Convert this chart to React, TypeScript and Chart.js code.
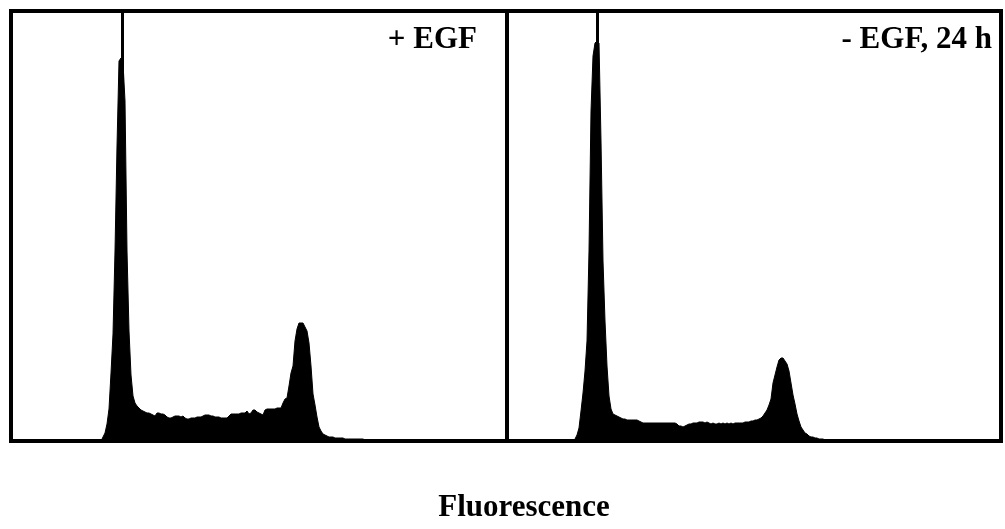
import React, { useEffect, useRef } from "react";
import { Chart, registerables } from "chart.js";

Chart.register(...registerables);

// ---- data ----
const egfStartChannel = 44;
const egfCounts = [
  0, 0, 4, 8, 17, 32, 68, 107, 190, 295, 380, 383, 378, 340, 190, 110, 66, 45, 38, 35,
  33, 31, 30, 29, 28, 28, 27, 26, 25, 28, 28, 27, 27, 26, 24, 23, 23, 24, 25, 25,
  25, 24, 25, 23, 22, 22, 23, 23, 23, 24, 24, 24, 25, 26, 26, 26, 25, 25, 24, 24,
  24, 23, 23, 23, 23, 25, 27, 27, 27, 27, 27, 28, 28, 28, 30, 27, 28, 31, 31, 29,
  28, 27, 26, 31, 32, 32, 32, 32, 32, 33, 33, 33, 38, 42, 43, 55, 68, 75, 100, 112,
  118, 118, 118, 114, 110, 98, 75, 47, 36, 24, 14, 10, 7, 6, 5, 4, 4, 4, 3, 3,
  3, 3, 3, 2, 2, 2, 2, 2, 2, 2, 2, 2, 2, 1, 1, 1, 1, 1, 1, 1, 1, 1, 0,
];
const egfGateChannel = 55.75;

const noEgfStartChannel = 33;
const noEgfCounts = [
  0, 2, 6, 13, 30, 48, 70, 100, 190, 330, 385, 398, 400, 398, 300, 180, 120, 75, 45, 32,
  27, 26, 25, 24, 23, 22, 22, 21, 21, 21, 21, 21, 21, 20, 19, 18, 18, 18, 18, 18,
  18, 18, 18, 18, 18, 18, 18, 18, 18, 18, 18, 18, 17, 15, 15, 14, 15, 16, 17, 17,
  18, 18, 18, 19, 19, 19, 18, 19, 18, 17, 18, 17, 17, 18, 17, 18, 17, 18, 17, 18,
  17, 18, 18, 18, 18, 18, 19, 19, 19, 20, 20, 21, 21, 22, 23, 25, 28, 31, 36, 42,
  58, 66, 74, 81, 83, 83, 80, 77, 70, 58, 46, 37, 27, 20, 14, 11, 8, 7, 5, 4,
  4, 3, 3, 2, 2, 2, 1, 1, 0,
];
const noEgfGateChannel = 45.25;

const leftMaxChannel = 248;
const rightMaxChannel = 247;
const countMax = 430;

const panelLabels = ["+ EGF", "- EGF, 24 h"];
const axisTitle = "Fluorescence";

const FONT = '"Liberation Serif", "Times New Roman", Times, serif';

const framePlugin = {
  id: "frame",
  afterDraw(chart: any) {
    const { ctx, chartArea } = chart;
    ctx.save();
    ctx.strokeStyle = "#000";
    ctx.lineWidth = 4;
    ctx.strokeRect(
      chartArea.left,
      chartArea.top,
      chartArea.right - chartArea.left,
      chartArea.bottom - chartArea.top
    );
    ctx.restore();
  },
};

type PanelProps = {
  start: number;
  counts: number[];
  gate: number;
  maxChannel: number;
  left: number;
  width: number;
  padding: { left: number; right: number; top: number; bottom: number };
};

function Panel({ start, counts, gate, maxChannel, left, width, padding }: PanelProps) {
  const ref = useRef<HTMLCanvasElement | null>(null);
  useEffect(() => {
    if (!ref.current) return;
    const histogram = counts.map((c, i) => ({ x: start + i, y: c }));
    const chart = new Chart(ref.current, {
      type: "line",
      data: {
        datasets: [
          {
            data: histogram,
            borderColor: "#000",
            backgroundColor: "#000",
            borderWidth: 1,
            pointRadius: 0,
            fill: "origin",
            tension: 0,
          },
          {
            data: [
              { x: gate, y: 0 },
              { x: gate, y: countMax },
            ],
            borderColor: "#000",
            borderWidth: 3,
            pointRadius: 0,
            fill: false,
          },
        ],
      },
      options: {
        animation: false,
        responsive: false,
        maintainAspectRatio: false,
        devicePixelRatio: 1,
        layout: { padding },
        plugins: {
          legend: { display: false },
          tooltip: { enabled: false },
          title: { display: false },
        },
        scales: {
          x: { type: "linear", min: 0, max: maxChannel, display: false },
          y: { type: "linear", min: 0, max: countMax, display: false },
        },
      },
      plugins: [framePlugin],
    });
    return () => chart.destroy();
  }, []);
  return (
    <canvas
      ref={ref}
      width={width}
      height={529}
      style={{ position: "absolute", left, top: 0, width, height: 529 }}
    />
  );
}

export default function App() {
  const labelStyle: React.CSSProperties = {
    position: "absolute",
    top: 22,
    fontFamily: FONT,
    fontWeight: "bold",
    fontSize: 31,
    lineHeight: "31px",
    whiteSpace: "nowrap",
    color: "#000",
  };
  return (
    <div
      style={{
        position: "fixed",
        left: 0,
        top: 0,
        width: 1005,
        height: 529,
        background: "#fff",
        overflow: "hidden",
      }}
    >
      <Panel
        start={egfStartChannel}
        counts={egfCounts}
        gate={egfGateChannel}
        maxChannel={leftMaxChannel}
        left={0}
        width={520}
        padding={{ left: 11, right: 13, top: 11, bottom: 88 }}
      />
      <Panel
        start={noEgfStartChannel}
        counts={noEgfCounts}
        gate={noEgfGateChannel}
        maxChannel={rightMaxChannel}
        left={495}
        width={510}
        padding={{ left: 12, right: 4, top: 11, bottom: 88 }}
      />
      <div style={{ ...labelStyle, right: 1005 - 477 }}>{panelLabels[0]}</div>
      <div style={{ ...labelStyle, right: 1005 - 992 }}>{panelLabels[1]}</div>
      <div
        style={{
          ...labelStyle,
          top: 490,
          left: 524,
          transform: "translateX(-50%)",
        }}
      >
        {axisTitle}
      </div>
    </div>
  );
}
